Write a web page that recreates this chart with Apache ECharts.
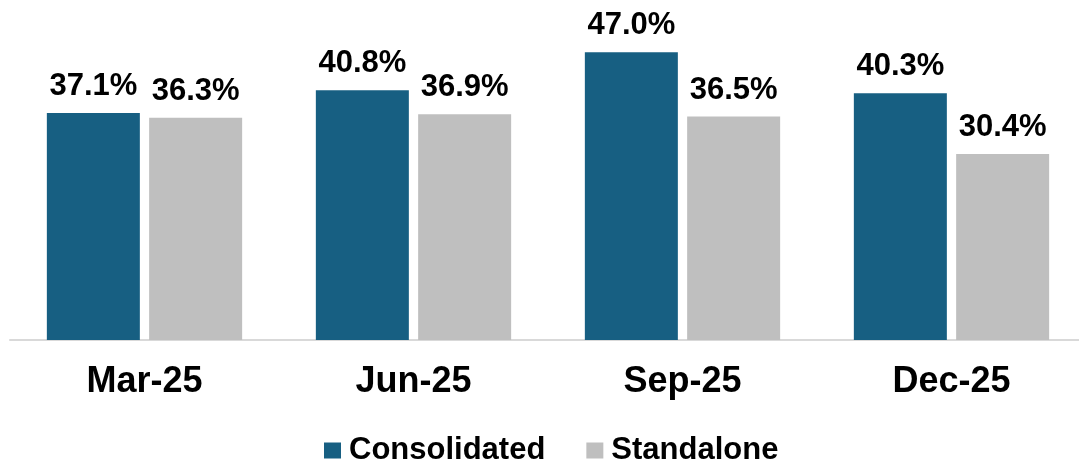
<!DOCTYPE html>
<html>
<head>
<meta charset="utf-8">
<script src="https://cdn.jsdelivr.net/npm/echarts@6/dist/echarts.min.js"></script>
<style>
  html, body { margin: 0; padding: 0; background: #fff; }
  #main { width: 1079px; height: 463px; }
</style>
</head>
<body>
<div id="main"></div>
<script>
// quarters and ratios (%)
var categories = ['Mar-25', 'Jun-25', 'Sep-25', 'Dec-25'];
var consolidated = [37.1, 40.8, 47.0, 40.3];
var standalone = [36.3, 36.9, 36.5, 30.4];

var font = '"Liberation Sans", Arial, sans-serif';

var labelStyle = {
  show: true,
  position: 'top',
  distance: 11,
  color: '#000',
  fontFamily: font,
  fontWeight: 'bold',
  fontSize: 31,
  formatter: function (p) { return p.value.toFixed(1) + '%'; }
};

var option = {
  animation: false,
  backgroundColor: '#fff',
  grid: { left: 10, width: 1076, top: 34, bottom: 123, outerBoundsMode: 'none' },
  legend: {
    left: 319,
    top: 430,
    itemWidth: 17,
    itemHeight: 16,
    itemGap: 41,
    icon: 'rect',
    textStyle: { color: '#000', fontFamily: font, fontWeight: 'bold', fontSize: 31, padding: [0, 0, 0, 3] },
    data: ['Consolidated', 'Standalone']
  },
  xAxis: {
    type: 'category',
    data: categories,
    axisLine: { lineStyle: { color: '#d9d9d9', width: 2 } },
    axisTick: { show: false },
    axisLabel: { color: '#000', fontFamily: font, fontWeight: 'bold', fontSize: 36, margin: 24 }
  },
  yAxis: {
    type: 'value',
    min: 0,
    max: 50,
    show: false,
    splitLine: { show: false }
  },
  series: [
    {
      name: 'Consolidated',
      type: 'bar',
      data: consolidated,
      barWidth: 93,
      barGap: '10%',
      itemStyle: { color: '#175f82' },
      label: labelStyle
    },
    {
      name: 'Standalone',
      type: 'bar',
      data: standalone,
      barWidth: 93,
      barGap: '10%',
      itemStyle: { color: '#bfbfbf' },
      label: labelStyle
    }
  ]
};

var myChart = echarts.init(document.getElementById('main'));
myChart.setOption(option);
</script>
</body>
</html>
